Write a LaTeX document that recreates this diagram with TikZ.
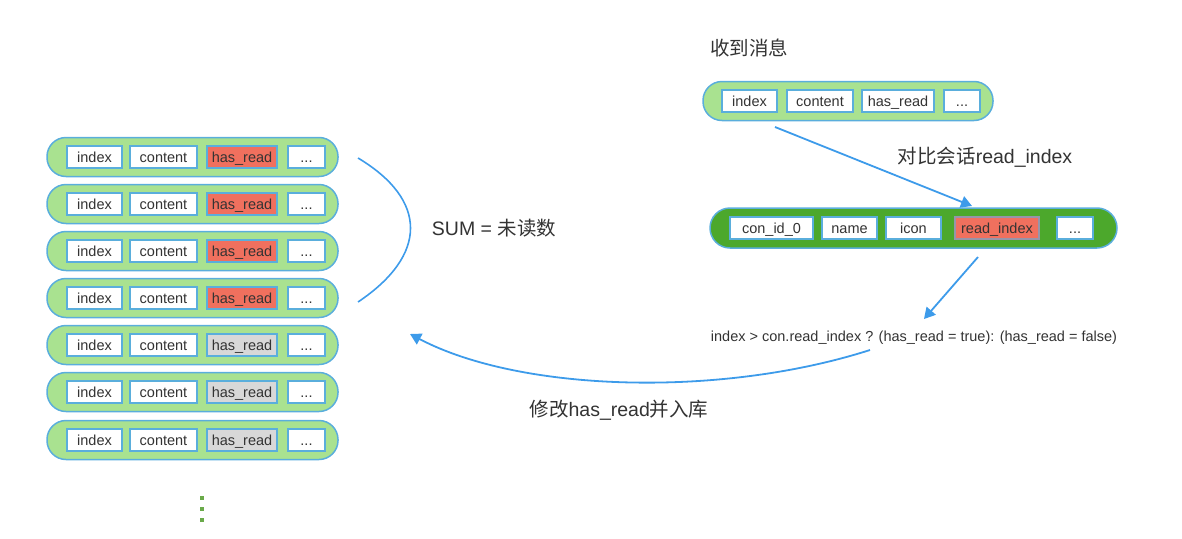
\documentclass[tikz,border=0pt]{standalone}
\usepackage{fontspec}
\setmainfont{Liberation Sans}
\newfontfamily\cjk{Noto Sans CJK SC}
\usetikzlibrary{arrows.meta}
\definecolor{pillgreen}{HTML}{A9E290}
\definecolor{darkgreen}{HTML}{4CA82C}
\definecolor{pillblue}{HTML}{5AAEDC}
\definecolor{redfill}{HTML}{F0705E}
\definecolor{grayfill}{HTML}{D8D8D8}
\definecolor{arrowblue}{HTML}{3D9BEA}
\definecolor{dotgreen}{HTML}{6AAA4A}
\definecolor{txt}{HTML}{333333}
\begin{document}
\begin{tikzpicture}[x=1pt,y=-1pt,
  pill/.style={draw=pillblue, line width=1.5pt, fill=pillgreen, rounded corners=19pt, minimum height=39pt, inner sep=0pt},
  darkpill/.style={pill, fill=darkgreen, minimum height=40pt, rounded corners=20pt},
  fbox/.style={draw=pillblue, line width=1.2pt, fill=white, minimum height=22pt, inner sep=0pt, text=txt, text height=11pt, text depth=1pt, font=\fontsize{14.5}{16}\selectfont},
  redbox/.style={fbox, fill=redfill},
  graybox/.style={fbox, fill=grayfill},
  lbl/.style={text=txt, font=\fontsize{19.5}{22}\selectfont},
  arr/.style={draw=arrowblue, line width=1.8pt, -{Triangle[length=11pt,width=12pt]}},
  dot/.style={fill=dotgreen, minimum size=3.5pt, inner sep=0pt}
]
\useasboundingbox (0,0) rectangle (1182,538);

% left rows
\foreach \i/\y/\st in {1/157/redbox,2/204/redbox,3/251/redbox,4/298/redbox,5/345/graybox,6/392/graybox,7/440/graybox}{
  \node[pill, minimum width=291pt] (row\i) at (192.5,\y) {};
  \node[fbox, minimum width=55pt] (r\i i) at (94.5,\y) {index};
  \node[fbox, minimum width=67pt] (r\i c) at (163.5,\y) {content};
  \node[\st, minimum width=70pt] (r\i h) at (242,\y) {has\_read};
  \node[fbox, minimum width=37pt] (r\i d) at (306.5,\y) {...};
}
\node[dot] (d1) at (202,498) {};
\node[dot] (d2) at (202,509) {};
\node[dot] (d3) at (202,520) {};

% top message
\node[lbl] (recv) at (749,48) {\cjk 收到消息};
\node[pill, minimum width=290pt] (msg) at (848,101) {};
\node[fbox, minimum width=55pt] (mi) at (749.5,101) {index};
\node[fbox, minimum width=66pt] (mc) at (820,101) {content};
\node[fbox, minimum width=72pt] (mh) at (898,101) {has\_read};
\node[fbox, minimum width=36pt] (md) at (962,101) {...};

% conversation
\node[darkpill, minimum width=407pt] (conv) at (913.5,228) {};
\node[fbox, minimum width=83pt] (cid) at (771.5,228) {con\_id\_0};
\node[fbox, minimum width=55pt] (cname) at (849.5,228) {name};
\node[fbox, minimum width=55pt] (cicon) at (913.5,228) {icon};
\node[redbox, draw=pillblue!60!redfill, minimum width=84pt] (cread) at (997,228) {read\_index};
\node[fbox, minimum width=36pt] (cdots) at (1075,228) {...};

\node[lbl] (cmp) at (985,157) {{\cjk 对比会话}read\_index};
\node[text=txt, font=\fontsize{14.5}{17}\selectfont] (formula) at (914,338) {index > con.read\_index ? (has\_read = true): (has\_read = false)};
\node[lbl] (sum) at (494,228) {SUM = {\cjk 未读数}};
\node[lbl] (upd) at (619,410) {{\cjk 修改}has\_read{\cjk 并入库}};

% connectors
\coordinate (a1) at (775,127);
\coordinate (a2) at (972,206);
\draw[arr] (a1) -- (a2);
\coordinate (b1) at (978,257);
\coordinate (b2) at (924,319);
\draw[arr] (b1) -- (b2);
\coordinate (s1) at (358,158);
\coordinate (s2) at (358,302);
\draw[draw=arrowblue, line width=1.6pt] (s1) .. controls (428,200) and (428,255) .. (s2);
\coordinate (u1) at (870,350);
\coordinate (u2) at (410,334);
\draw[arr] (u1) .. controls (720,398) and (520,392) .. (u2);
\end{tikzpicture}
\end{document}
